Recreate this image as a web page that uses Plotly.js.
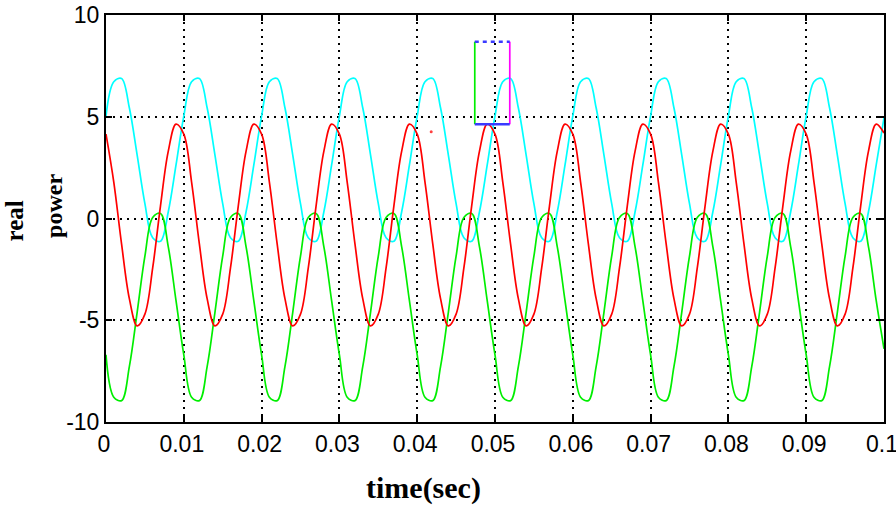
<!DOCTYPE html>
<html>
<head>
<meta charset="utf-8">
<script src="https://cdn.plot.ly/plotly-3.0.1.min.js"></script>
<style>html,body{margin:0;padding:0;background:#fff;}#chart{width:896px;height:507px;}</style>
</head>
<body>
<div id="chart"></div>
<script>
// time samples (sec)
const time = [
  0.000,0.001,0.002,0.003,0.004,0.005,0.006,0.007,0.008,0.009,
  0.010,0.011,0.012,0.013,0.014,0.015,0.016,0.017,0.018,0.019,
  0.020,0.021,0.022,0.023,0.024,0.025,0.026,0.027,0.028,0.029,
  0.030,0.031,0.032,0.033,0.034,0.035,0.036,0.037,0.038,0.039,
  0.040,0.041,0.042,0.043,0.044,0.045,0.046,0.047,0.048,0.049,
  0.050,0.051,0.052,0.053,0.054,0.055,0.056,0.057,0.058,0.059,
  0.060,0.061,0.062,0.063,0.064,0.065,0.066,0.067,0.068,0.069,
  0.070,0.071,0.072,0.073,0.074,0.075,0.076,0.077,0.078,0.079,
  0.080,0.081,0.082,0.083,0.084,0.085,0.086,0.087,0.088,0.089,
  0.090,0.091,0.092,0.093,0.094,0.095,0.096,0.097,0.098,0.099,
  0.100
];
// cyan curve values
const cyanPower = [
  5.03,6.72,6.88,5.44,3.13,0.73,-0.95,-1.12,0.32,2.63,
  5.03,6.72,6.88,5.44,3.13,0.73,-0.95,-1.12,0.32,2.63,
  5.03,6.72,6.88,5.44,3.13,0.73,-0.95,-1.12,0.32,2.63,
  5.03,6.72,6.88,5.44,3.13,0.73,-0.95,-1.12,0.32,2.63,
  5.03,6.72,6.88,5.44,3.13,0.73,-0.95,-1.12,0.32,2.63,
  5.03,6.72,6.88,5.44,3.13,0.73,-0.95,-1.12,0.32,2.63,
  5.03,6.72,6.88,5.44,3.13,0.73,-0.95,-1.12,0.32,2.63,
  5.03,6.72,6.88,5.44,3.13,0.73,-0.95,-1.12,0.32,2.63,
  5.03,6.72,6.88,5.44,3.13,0.73,-0.95,-1.12,0.32,2.63,
  5.03,6.72,6.88,5.44,3.13,0.73,-0.95,-1.12,0.32,2.63,
  4.95
];
// red curve values
const redPower = [
  4.15,1.79,-1.25,-3.94,-5.28,-4.70,-2.43,0.61,3.30,4.64,
  4.15,1.79,-1.25,-3.94,-5.28,-4.70,-2.43,0.61,3.30,4.64,
  4.15,1.79,-1.25,-3.94,-5.28,-4.70,-2.43,0.61,3.30,4.64,
  4.15,1.79,-1.25,-3.94,-5.28,-4.70,-2.43,0.61,3.30,4.64,
  4.15,1.79,-1.25,-3.94,-5.28,-4.70,-2.43,0.61,3.30,4.64,
  4.15,1.79,-1.25,-3.94,-5.28,-4.70,-2.43,0.61,3.30,4.64,
  4.15,1.79,-1.25,-3.94,-5.28,-4.70,-2.43,0.61,3.30,4.64,
  4.15,1.79,-1.25,-3.94,-5.28,-4.70,-2.43,0.61,3.30,4.64,
  4.15,1.79,-1.25,-3.94,-5.28,-4.70,-2.43,0.61,3.30,4.64,
  4.15,1.79,-1.25,-3.94,-5.28,-4.70,-2.43,0.61,3.30,4.64,
  4.20
];
// green curve values
const greenPower = [
  -6.70,-8.78,-8.95,-7.28,-4.62,-1.85,0.05,0.25,-1.38,-4.04,
  -6.70,-8.78,-8.95,-7.28,-4.62,-1.85,0.05,0.25,-1.38,-4.04,
  -6.70,-8.78,-8.95,-7.28,-4.62,-1.85,0.05,0.25,-1.38,-4.04,
  -6.70,-8.78,-8.95,-7.28,-4.62,-1.85,0.05,0.25,-1.38,-4.04,
  -6.70,-8.78,-8.95,-7.28,-4.62,-1.85,0.05,0.25,-1.38,-4.04,
  -6.70,-8.78,-8.95,-7.28,-4.62,-1.85,0.05,0.25,-1.38,-4.04,
  -6.70,-8.78,-8.95,-7.28,-4.62,-1.85,0.05,0.25,-1.38,-4.04,
  -6.70,-8.78,-8.95,-7.28,-4.62,-1.85,0.05,0.25,-1.38,-4.04,
  -6.70,-8.78,-8.95,-7.28,-4.62,-1.85,0.05,0.25,-1.38,-4.04,
  -6.70,-8.78,-8.95,-7.28,-4.62,-1.85,0.05,0.25,-1.38,-4.04,
  -6.40
];
// small marker box near t = 0.05
const boxX = [0.0474, 0.0519];
const boxY = [4.63, 8.69];
// stray red dot
const dotX = [0.0418];
const dotY = [4.26];

const xTickVals = [0,0.01,0.02,0.03,0.04,0.05,0.06,0.07,0.08,0.09,0.1];
const xTickText = ['0','0.01','0.02','0.03','0.04','0.05','0.06','0.07','0.08','0.09','0.1'];
const yTickVals = [-10,-5,0,5,10];
const yTickText = ['-10','-5','0','5','10'];

const tickFont = {family: '"Liberation Sans Narrow", "Arial Narrow", "Liberation Sans", Arial, sans-serif', size: 23, color: '#000'};
const serifBold = '"Liberation Serif", "Times New Roman", serif';

function curve(y, color) {
  return {x: time, y: y, type: 'scatter', mode: 'lines',
          line: {color: color, width: 1.7, shape: 'spline', smoothing: 1},
          hoverinfo: 'skip', showlegend: false};
}
function seg(xs, ys, color, dash, width) {
  return {x: xs, y: ys, type: 'scatter', mode: 'lines',
          line: {color: color, width: width, dash: dash},
          hoverinfo: 'skip', showlegend: false};
}

const data = [
  curve(cyanPower, '#00ffff'),
  curve(greenPower, '#00ee00'),
  curve(redPower, '#ff0000'),
  seg([boxX[0], boxX[0]], [boxY[0], boxY[1]], '#00ee00', 'solid', 1.7),
  seg([boxX[1], boxX[1]], [boxY[0], boxY[1]], '#ff00ff', 'solid', 1.7),
  seg([boxX[0], boxX[1]], [boxY[0], boxY[0]], '#3a3aff', 'solid', 2.5),
  seg([boxX[0], boxX[1]], [boxY[1], boxY[1]], '#3a3aff', '4px,4px', 2.5),
  {x: dotX, y: dotY, type: 'scatter', mode: 'markers',
   marker: {color: '#ff4040', size: 3}, hoverinfo: 'skip', showlegend: false}
];

const axisCommon = {
  showline: true, linecolor: '#000', linewidth: 2, mirror: 'allticks',
  ticks: 'inside', ticklen: 6, tickwidth: 2, tickcolor: '#000',
  showgrid: true, gridcolor: '#000', gridwidth: 2, griddash: '2px,5px',
  zeroline: false, tickfont: tickFont, fixedrange: true,
  ticklabeloverflow: 'allow'
};

const layout = {
  width: 896, height: 507,
  margin: {l: 106, r: 12, t: 15, b: 85},
  paper_bgcolor: '#fff', plot_bgcolor: '#fff',
  showlegend: false,
  xaxis: Object.assign({}, axisCommon, {
    range: [0, 0.1], tickmode: 'array', tickvals: xTickVals, ticktext: xTickText,
    ticklabelshift: -2
  }),
  yaxis: Object.assign({}, axisCommon, {
    range: [-10, 10], tickmode: 'array', tickvals: yTickVals, ticktext: yTickText
  }),
  annotations: [
    {text: 'time(sec)', xref: 'paper', yref: 'paper', x: 0.408, y: -0.162,
     xanchor: 'center', yanchor: 'middle', showarrow: false,
     font: {family: serifBold, size: 30, color: '#000', weight: 'bold'}},
    {text: 'real', xref: 'paper', yref: 'paper', x: -0.117, y: 0.495,
     xanchor: 'center', yanchor: 'middle', showarrow: false, textangle: -90,
     font: {family: serifBold, size: 25, color: '#000', weight: 'bold'}},
    {text: 'power', xref: 'paper', yref: 'paper', x: -0.066, y: 0.53,
     xanchor: 'center', yanchor: 'middle', showarrow: false, textangle: -90,
     font: {family: serifBold, size: 24, color: '#000', weight: 'bold'}}
  ]
};

Plotly.newPlot('chart', data, layout, {staticPlot: true, displayModeBar: false});
</script>
</body>
</html>
